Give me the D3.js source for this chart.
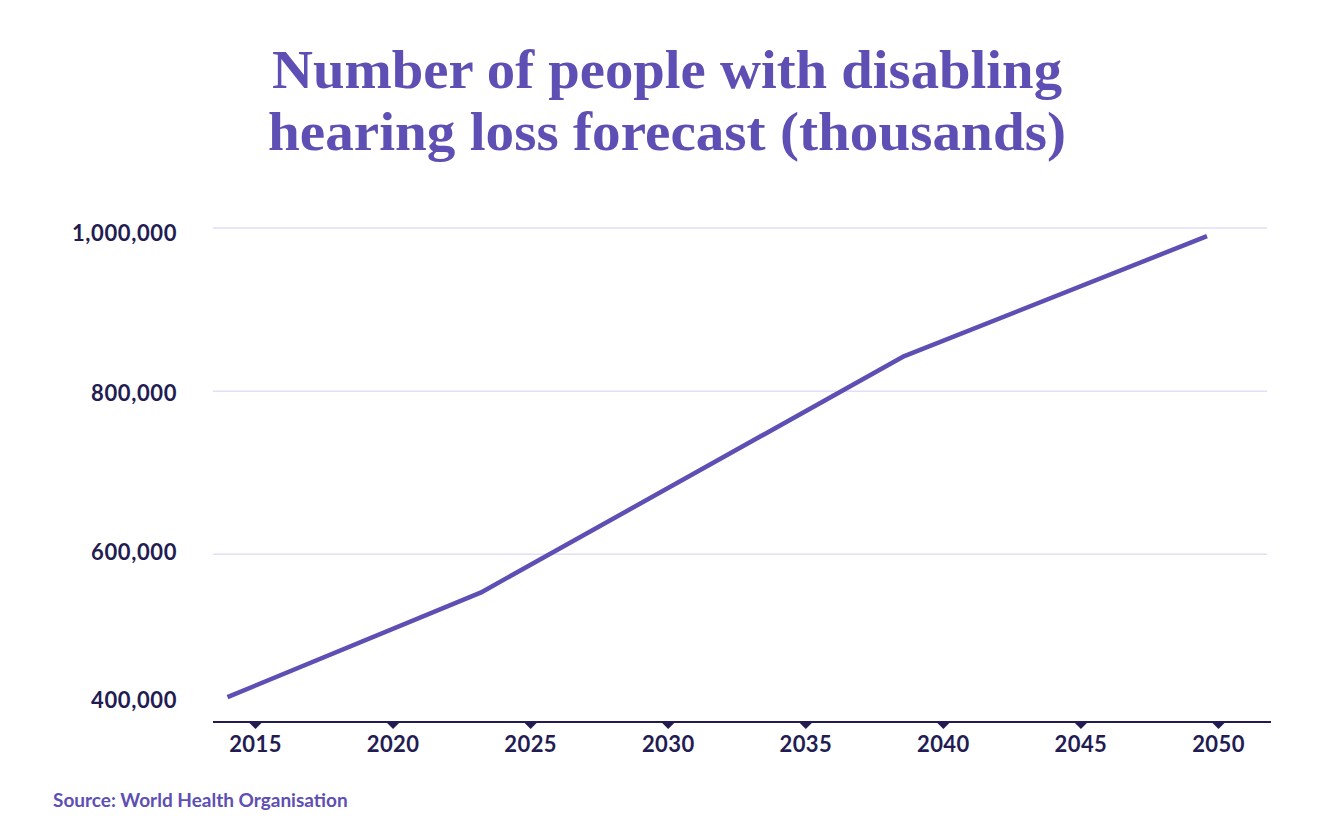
<!DOCTYPE html>
<html>
<head>
<meta charset="utf-8">
<script src="https://cdn.jsdelivr.net/npm/d3@7"></script>
<style>
  html, body { margin: 0; padding: 0; background: #ffffff; }
  svg { display: block; }
</style>
</head>
<body>
<svg id="chart" width="1334" height="834"></svg>
<script>
// ---- data ----
const titleLines = ["Number of people with disabling", "hearing loss forecast (thousands)"];
const sourceText = "Source: World Health Organisation";
const years = [2014, 2023.2, 2038.6, 2049.6];
const values = [425000, 553000, 843000, 990000];
const xTicks = [2015, 2020, 2025, 2030, 2035, 2040, 2045, 2050];
const yTicks = [400000, 600000, 800000, 1000000];

// ---- layout ----
const W = 1334, H = 834;
const plotLeft = 213, plotRight = 1269, plotTop = 228, plotBottom = 722;
const purple = "#5d4fb3", navy = "#231c52", grid = "#e2def7";

const svg = d3.select("#chart");

const x = d3.scaleLinear().domain([2015, 2050]).range([255, 1218]);
const y = d3.scaleLinear().domain([400000, 1000000]).range([717.5, plotTop]);
// label baselines (labels sit slightly off the gridlines in the original; bottom one lifted above the axis)
const yLabel = d3.scaleLinear().domain([600000, 1000000]).range([560, 241]);

// title
svg.append("g").selectAll("text").data(titleLines).join("text")
  .attr("x", W / 2)
  .attr("y", (d, i) => 88 + i * 62)
  .attr("text-anchor", "middle")
  .attr("font-family", "'Liberation Serif', 'DejaVu Serif', serif")
  .attr("font-weight", 700)
  .attr("font-size", 54)
  .attr("fill", purple)
  .attr("textLength", (d, i) => i === 0 ? 790 : 798)
  .attr("lengthAdjust", "spacingAndGlyphs")
  .text(d => d);

// gridlines
svg.append("g").selectAll("line").data(yTicks.filter(v => v > 400000)).join("line")
  .attr("x1", plotLeft).attr("x2", plotRight - 2)
  .attr("y1", d => y(d)).attr("y2", d => y(d))
  .attr("stroke", grid).attr("stroke-width", 1.5);

// y labels
const fmt = d3.format(",");
svg.append("g").selectAll("text").data(yTicks).join("text")
  .attr("x", 177)
  .attr("y", d => Math.min(yLabel(d), 708))
  .attr("text-anchor", "end")
  .attr("font-family", "Lato, sans-serif")
  .attr("font-weight", 700)
  .attr("font-size", 22)
  .attr("letter-spacing", 0.6)
  .attr("fill", navy)
  .text(d => fmt(d));

// x axis
const xAxis = d3.axisBottom(x).tickValues(xTicks).tickFormat(d3.format("d")).tickSize(0).tickPadding(14);
const gx = svg.append("g").attr("transform", `translate(0,${plotBottom})`).call(xAxis);
gx.select(".domain").remove();
gx.selectAll(".tick text")
  .attr("font-family", "Lato, sans-serif")
  .attr("font-weight", 700)
  .attr("font-size", 22)
  .attr("letter-spacing", 0.4)
  .attr("fill", navy);
gx.selectAll(".tick").append("path")
  .attr("d", "M-7,0L7,0L0,7Z")
  .attr("fill", navy);
gx.append("line")
  .attr("x1", plotLeft).attr("x2", plotRight + 2)
  .attr("y1", 0).attr("y2", 0)
  .attr("stroke", navy).attr("stroke-width", 2);

// line
const pts = years.map((yr, i) => [yr, values[i]]);
svg.append("path")
  .datum(pts)
  .attr("d", d3.line().x(d => x(d[0])).y(d => y(d[1])))
  .attr("fill", "none")
  .attr("stroke", purple)
  .attr("stroke-width", 4.5)
  .attr("stroke-linejoin", "round");

// source
svg.append("text")
  .attr("x", 53).attr("y", 806.5)
  .attr("font-family", "Lato, sans-serif")
  .attr("font-weight", 700)
  .attr("font-size", 19)
  .attr("fill", purple)
  .text(sourceText);
</script>
</body>
</html>
